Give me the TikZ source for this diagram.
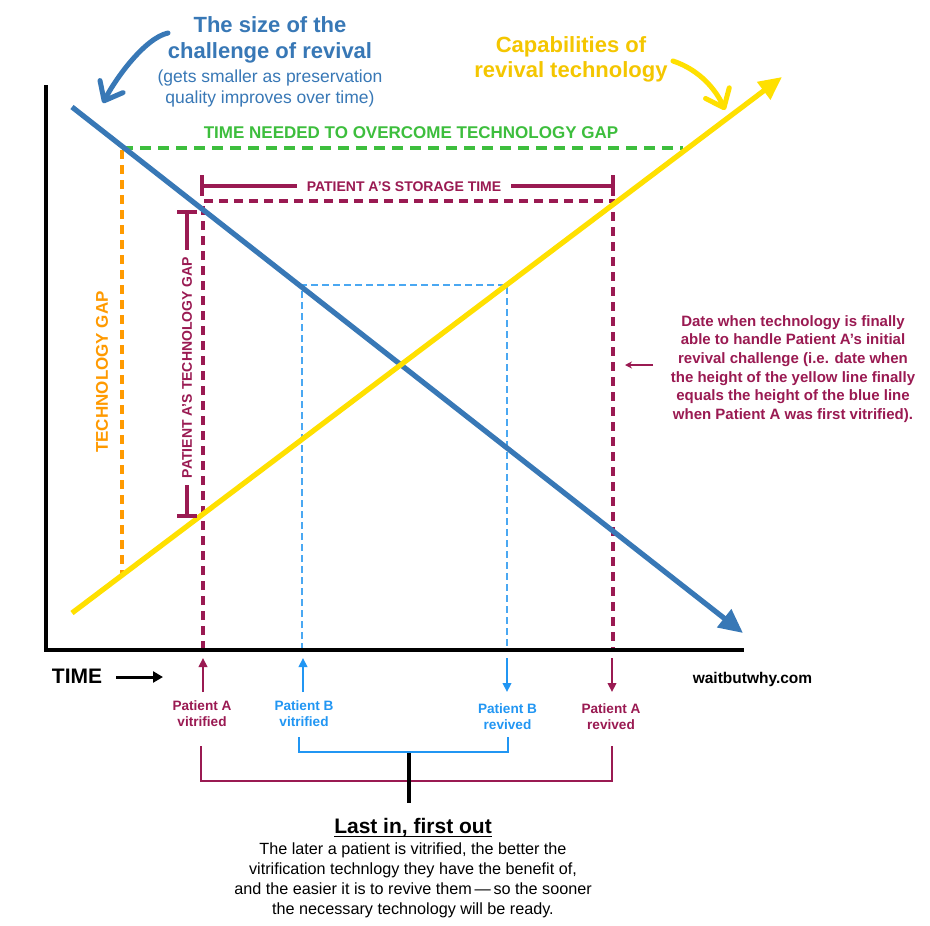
\documentclass[tikz,border=0pt]{standalone}
\usepackage{fontspec}
\setmainfont{Liberation Sans}
\usetikzlibrary{arrows.meta}
\definecolor{chalblue}{HTML}{3878B6}
\definecolor{techyellow}{HTML}{FFE000}
\definecolor{techgold}{HTML}{F4C600}
\definecolor{gapgreen}{HTML}{3DBE3D}
\definecolor{gaporange}{HTML}{FF9A00}
\definecolor{pmaroon}{HTML}{9A1A52}
\definecolor{pblue}{HTML}{2196F3}
\definecolor{dashblue}{HTML}{4AA8F2}
\newcommand{\sz}[2]{\fontsize{#1}{#2}\selectfont}
\begin{document}
\begin{tikzpicture}[x=1pt,y=-1pt,
  txt/.style={inner sep=0pt, align=center},
  mainline/.style={line width=5.2pt},
  curvearrow/.style={line width=5pt, line cap=round, line join=round,
    -{Straight Barb[length=16pt,width=26pt,round]}},
  maroondash/.style={pmaroon, line width=3.05pt, dash pattern=on 9pt off 6pt},
  bluedash/.style={dashblue, line width=2.3pt, dash pattern=on 7pt off 4pt},
  greendash/.style={gapgreen, line width=4pt, dash pattern=on 11pt off 7pt},
  orangedash/.style={gaporange, line width=3.5pt, dash pattern=on 9pt off 6pt},
  bracketline/.style={line width=3.05pt},
  lowbracket/.style={line width=2.8pt, line join=miter},
  eventarrow/.style={line width=2.4pt, -{Triangle[length=9pt,width=8.5pt]}},
]
\useasboundingbox (0,0) rectangle (930,926);
\fill[white] (0,0) rectangle (930,926);

% ---------- key points ----------
\coordinate (yaxisTop) at (46,85);
\coordinate (origin) at (46,650);
\coordinate (xaxisEnd) at (744,650);
\coordinate (blueStart) at (72,107);
\coordinate (blueTip) at (743,633);
\coordinate (yellowStart) at (72,613);
\coordinate (yellowTip) at (782,77);

% ---------- dashed guides ----------
\coordinate (greenL) at (122,148);
\coordinate (greenR) at (683,148);
\coordinate (orangeTop) at (122,150);
\coordinate (orangeBot) at (122,575);
\draw[greendash] (greenL) -- (greenR);
\draw[orangedash] (orangeTop) -- (orangeBot);

\coordinate (aVitBase) at (203,650);
\coordinate (aVitTop) at (203,201);
\coordinate (aRevTop) at (613,201);
\coordinate (aRevBase) at (613,650);
\draw[maroondash] (aVitBase) -- (aVitTop) -- (aRevTop) -- (aRevBase);

\coordinate (bVitBase) at (302,650);
\coordinate (bVitTop) at (302,285);
\coordinate (bRevTop) at (507,285);
\coordinate (bRevBase) at (507,650);
\draw[bluedash] (bVitBase) -- (bVitTop) -- (bRevTop) -- (bRevBase);

% ---------- main lines ----------
\draw[chalblue, mainline, -{Triangle[length=24pt,width=22pt]}] (blueStart) -- (blueTip);
\draw[techyellow, mainline, -{Triangle[length=23pt,width=21pt]}] (yellowStart) -- (yellowTip);

% ---------- axes ----------
\draw[line width=3.4pt, line join=miter] (yaxisTop) -- (origin) -- (xaxisEnd);

% ---------- headings ----------
\node[txt, anchor=north, text=chalblue, font=\sz{22}{26}\bfseries] (chalTitle) at (270,16.2)
  {The size of the\\challenge of revival};
\node[txt, anchor=north, text=chalblue, font=\sz{17.5}{21}] (chalSub) at (270,69.2)
  {(gets smaller as preservation\\quality improves over time)};
\coordinate (chalArrowTail) at (168,33);
\coordinate (chalArrowTip) at (103,103);
\draw[chalblue, curvearrow] (chalArrowTail) .. controls (145,38) and (116,78) .. (chalArrowTip);

\node[txt, anchor=north, text=techgold, font=\sz{22}{25.5}\bfseries] (capTitle) at (571,36.2)
  {Capabilities of\\revival technology};
\coordinate (capArrowTail) at (673,61);
\coordinate (capArrowTip) at (725,110);
\draw[techyellow, curvearrow] (capArrowTail) .. controls (700,70) and (716,90) .. (capArrowTip);

% ---------- gap labels ----------
\node[txt, anchor=base, text=gapgreen, font=\sz{17}{20}\bfseries] (greenLbl) at (411,138.5)
  {TIME NEEDED TO OVERCOME TECHNOLOGY GAP};
\node[txt, rotate=90, text=gaporange, font=\sz{17}{20}\bfseries] (orangeLbl) at (102,372)
  {TECHNOLOGY GAP};

% storage-time bracket
\node[txt, anchor=base, text=pmaroon, font=\sz{14}{17}\bfseries, inner xsep=10pt] (storeLbl) at (404,191)
  {PATIENT A'S STORAGE TIME};
\coordinate (storeL) at (202,186);
\coordinate (storeR) at (613,186);
\draw[pmaroon, bracketline] (202,175) -- (202,196) (613,175) -- (613,196);
\draw[pmaroon, bracketline] (storeL) -- (storeLbl.west |- storeL);
\draw[pmaroon, bracketline] (storeLbl.east |- storeR) -- (storeR);

% patient A's technology-gap bracket
\node[txt, rotate=90, text=pmaroon, font=\sz{14}{17}\bfseries, inner xsep=7pt] (gapLbl) at (187,367.5)
  {PATIENT A'S TECHNOLOGY GAP};
\coordinate (gapT) at (187,212);
\coordinate (gapB) at (187,516);
\draw[pmaroon, bracketline] (177,212) -- (197,212) (177,516) -- (197,516);
\draw[pmaroon, bracketline] (gapT) -- (gapT |- gapLbl.east);
\draw[pmaroon, bracketline] (gapB |- gapLbl.west) -- (gapB);

% ---------- note on the right ----------
\node[txt, anchor=north, text=pmaroon, font=\sz{15}{18.6}\bfseries] (noteLbl) at (793,315.2)
  {Date when technology is finally\\able to handle Patient A's initial\\revival challenge (i.e. date when\\the height of the yellow line finally\\equals the height of the blue line\\when Patient A was first vitrified).};
\coordinate (noteTail) at (653,365);
\coordinate (noteTip) at (625,365);
\draw[pmaroon, line width=2.2pt, -{Stealth[length=7pt,width=7pt]}] (noteTail) -- (noteTip);

% ---------- time axis labels ----------
\node[txt, anchor=base, font=\sz{21}{24}\bfseries] (timeLbl) at (77,683) {TIME};
\coordinate (timeTail) at (116,677);
\coordinate (timeTip) at (163,677);
\draw[line width=3pt, -{Triangle[length=10pt,width=11pt]}] (timeTail) -- (timeTip);
\node[txt, anchor=base, font=\sz{15.5}{18}\bfseries] (siteLbl) at (752.5,683) {waitbutwhy.com};

% event arrows
\coordinate (aVitFrom) at (203,692);
\coordinate (aVitTo) at (203,658);
\coordinate (bVitFrom) at (303,692);
\coordinate (bVitTo) at (303,658);
\coordinate (bRevFrom) at (507,658);
\coordinate (bRevTo) at (507,692);
\coordinate (aRevFrom) at (612,658);
\coordinate (aRevTo) at (612,692);
\draw[pmaroon, eventarrow] (aVitFrom) -- (aVitTo);
\draw[pblue, eventarrow] (bVitFrom) -- (bVitTo);
\draw[pblue, eventarrow] (bRevFrom) -- (bRevTo);
\draw[pmaroon, eventarrow] (aRevFrom) -- (aRevTo);

\node[txt, anchor=north, text=pmaroon, font=\sz{13.6}{16}\bfseries] (aVitLbl) at (202,700.2) {Patient A\\vitrified};
\node[txt, anchor=north, text=pblue, font=\sz{13.6}{16}\bfseries] (bVitLbl) at (304,700.2) {Patient B\\vitrified};
\node[txt, anchor=north, text=pblue, font=\sz{13.6}{16}\bfseries] (bRevLbl) at (507.5,703.2) {Patient B\\revived};
\node[txt, anchor=north, text=pmaroon, font=\sz{13.6}{16}\bfseries] (aRevLbl) at (611,703.2) {Patient A\\revived};

% ---------- last in, first out brackets ----------
\coordinate (bBrL) at (299,752);
\coordinate (bBrR) at (508,752);
\draw[pblue, lowbracket] (299,737) -- (bBrL) -- (bBrR) -- (508,737);
\coordinate (aBrL) at (201,781);
\coordinate (aBrR) at (612,781);
\draw[pmaroon, lowbracket] (201,746) -- (aBrL) -- (aBrR) -- (612,746);
\coordinate (stemTop) at (409,753);
\coordinate (stemBot) at (409,803);
\draw[line width=3.4pt] (stemTop) -- (stemBot);

\node[txt, anchor=base, font=\sz{21}{24}\bfseries] (lifoLbl) at (413,833) {Last in, first out};
\draw[line width=1.7pt] ([yshift=-3.5pt]lifoLbl.base west) -- ([yshift=-3.5pt]lifoLbl.base east);
\node[txt, anchor=north, font=\sz{16.2}{20}] (lifoText) at (413,842.3)
  {The later a patient is vitrified, the better the\\vitrification technlogy they have the benefit of,\\and the easier it is to revive them\,—\,so the sooner\\the necessary technology will be ready.};
\end{tikzpicture}
\end{document}
